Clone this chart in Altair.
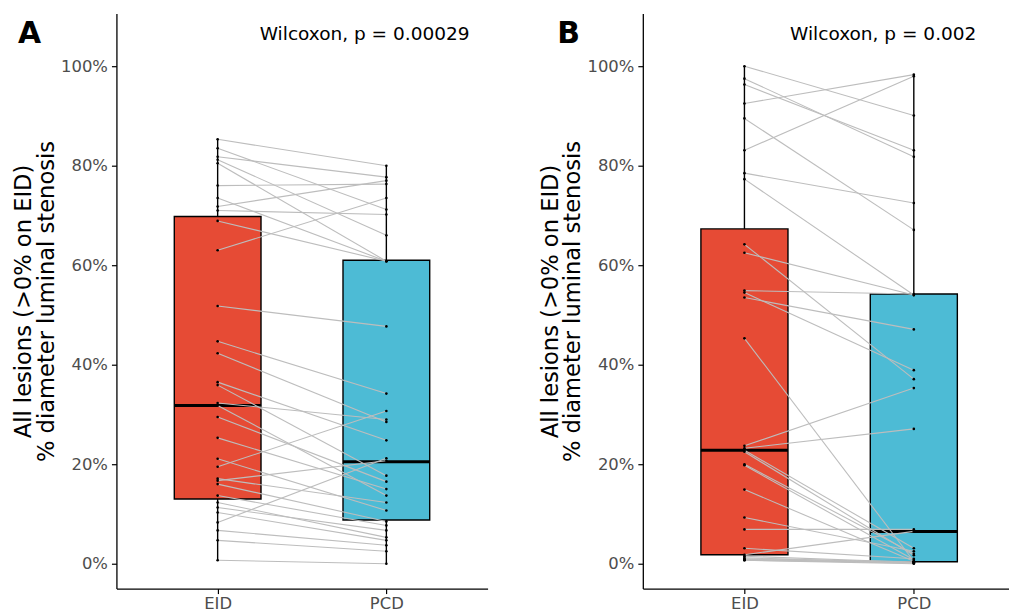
import altair as alt
import pandas as pd

GROUPS = ["EID", "PCD"]
COLORS = ["#E64B35", "#4DBBD5"]
Y_TICKS = [0, 20, 40, 60, 80, 100]
Y_TITLE = ["All lesions (>0% on EID)", "% diameter luminal stenosis"]

# Panel A paired values (% stenosis), same index = same lesion
EID_A = [85.3, 83.5, 81.8, 81.2, 80.5, 76.0, 73.5, 71.8, 71.0, 68.9, 63.0, 51.8, 44.7,
         42.3, 36.5, 35.9, 32.3, 31.8, 29.5, 25.3, 21.1, 19.5, 17.1, 16.7, 16.0, 13.7,
         12.3, 11.3, 10.3, 8.3, 6.7, 4.7, 0.7]
PCD_A = [80.0, 71.2, 77.7, 66.0, 60.8, 76.3, 60.8, 77.0, 70.2, 60.8, 73.5, 47.7, 34.2,
         28.5, 24.8, 17.7, 29.0, 13.7, 16.5, 15.0, 10.7, 30.7, 12.3, 20.7, 8.5, 7.7,
         5.3, 6.7, 4.7, 21.2, 3.7, 2.5, 0.0]

# Panel B paired values
EID_B = [100.0, 97.5, 96.3, 92.5, 89.5, 83.1, 78.5, 77.3, 64.2, 62.5, 54.9, 54.5, 53.5,
         45.3, 23.7, 23.2, 22.8, 22.5, 20.0, 19.8, 14.9, 9.3, 6.9, 3.1, 1.8, 1.5, 1.2,
         1.0, 0.9, 0.8, 0.7, 0.7]
PCD_B = [90.1, 81.8, 83.1, 98.3, 67.1, 98.0, 72.5, 54.0, 37.1, 54.0, 54.2, 38.9, 47.1,
         0.5, 35.3, 27.1, 3.1, 1.7, 2.0, 0.8, 0.5, 2.5, 6.9, 1.0, 6.5, 0.3, 0.2,
         0.4, 0.1, 0.3, 0.0, 0.2]

# Box statistics: [EID, PCD]
A_Q1, A_MED, A_Q3, A_LO, A_HI = [13.0, 8.8], [31.8, 20.5], [69.8, 61.0], [0.7, 0.0], [85.3, 80.0]
B_Q1, B_MED, B_Q3, B_LO, B_HI = [1.8, 0.4], [22.8, 6.5], [67.3, 54.2], [0.7, 0.0], [100.0, 98.3]

P_TEXT = ["Wilcoxon, p = 0.00029", "Wilcoxon, p = 0.002"]
LETTERS = ["A", "B"]

HALF = 0.257
PLOT_H = 578


def panel(eid, pcd, q1, med, q3, lo, hi, ptext, letter, width, xmax, letter_x, ptext_x):
    n = len(eid)
    pairs = pd.DataFrame({
        "id": list(range(n)) * 2,
        "grp": ["EID"] * n + ["PCD"] * n,
        "pos": [1] * n + [2] * n,
        "val": eid + pcd,
    })
    stats = pd.DataFrame({"grp": GROUPS, "pos": [1, 2], "q1": q1, "med": med,
                          "q3": q3, "lo": lo, "hi": hi})
    xs = alt.Scale(domain=[0.4, xmax], nice=False, zero=False)
    ys = alt.Scale(domain=[-5, 110.6], nice=False, zero=False)
    xax = alt.Axis(values=[1, 2], labelExpr="datum.value == 1 ? 'EID' : 'PCD'",
                   grid=False, title=None, domainColor="black", domainWidth=1.3,
                   tickColor="black", tickWidth=1.2, tickSize=5, labelColor="#4d4d4d",
                   labelFontSize=16.5, labelPadding=2, labelAngle=0)
    yax = alt.Axis(values=Y_TICKS, labelExpr="format(datum.value, 'd') + '%'",
                   grid=False, title=Y_TITLE, domainColor="black", domainWidth=1.3,
                   tickColor="black", tickWidth=1.2, tickSize=5, labelColor="#4d4d4d",
                   labelFontSize=16.5, labelPadding=4, titleFontSize=22.7,
                   titleFontWeight="normal", titleColor="black", titleLineHeight=23,
                   titlePadding=2)

    def X(f):
        return alt.X(f, type="quantitative", scale=xs, axis=xax)

    def Y(f):
        return alt.Y(f, type="quantitative", scale=ys, axis=yax)

    base = alt.Chart(stats)
    w_lo = base.mark_rule(color="black", strokeWidth=1.4).encode(x=X("pos"), y=Y("lo"), y2="q1:Q")
    w_hi = base.mark_rule(color="black", strokeWidth=1.4).encode(x=X("pos"), y=Y("q3"), y2="hi:Q")
    calc = base.transform_calculate(xl=f"datum.pos - {HALF}", xr=f"datum.pos + {HALF}")
    box = calc.mark_bar(stroke="black", strokeWidth=1.4, opacity=1).encode(
        x=X("xl"), x2="xr:Q", y=Y("q1"), y2="q3:Q",
        color=alt.Color("grp:N", scale=alt.Scale(domain=GROUPS, range=COLORS), legend=None))
    mline = calc.mark_rule(color="black", strokeWidth=3).encode(x=X("xl"), x2="xr:Q", y=Y("med"))
    lines = alt.Chart(pairs).mark_line(color="#bdbdbd", strokeWidth=1.1).encode(
        x=X("pos"), y=Y("val"), detail="id:N")
    pts = alt.Chart(pairs).mark_circle(color="black", size=7, opacity=1).encode(
        x=X("pos"), y=Y("val"))
    ptxt = alt.Chart(pd.DataFrame({"t": [ptext]})).mark_text(
        align="left", baseline="middle", fontSize=18.6, color="black").encode(
        x=alt.value(ptext_x), y=alt.value(21), text="t:N")
    ltxt = alt.Chart(pd.DataFrame({"t": [letter]})).mark_text(
        align="left", baseline="middle", fontSize=30, fontWeight="bold", color="black").encode(
        x=alt.value(letter_x), y=alt.value(21), text="t:N")
    return alt.layer(w_lo, w_hi, box, mline, lines, pts, ptxt, ltxt).properties(
        width=width, height=PLOT_H)


pA = panel(EID_A, PCD_A, A_Q1, A_MED, A_Q3, A_LO, A_HI, P_TEXT[0], LETTERS[0],
           373, 2.6, -99, 144)
pB = panel(EID_B, PCD_B, B_Q1, B_MED, B_Q3, B_LO, B_HI, P_TEXT[1], LETTERS[1],
           368, 2.562, -86, 148)

chart = alt.hconcat(pA, pB, spacing=51, padding={"left": 12, "top": 12, "right": 0, "bottom": 0}
                    ).configure(font="DejaVu Sans").configure_view(stroke=None)

chart.save("out.html", embed_options={"renderer": "svg", "actions": False})
